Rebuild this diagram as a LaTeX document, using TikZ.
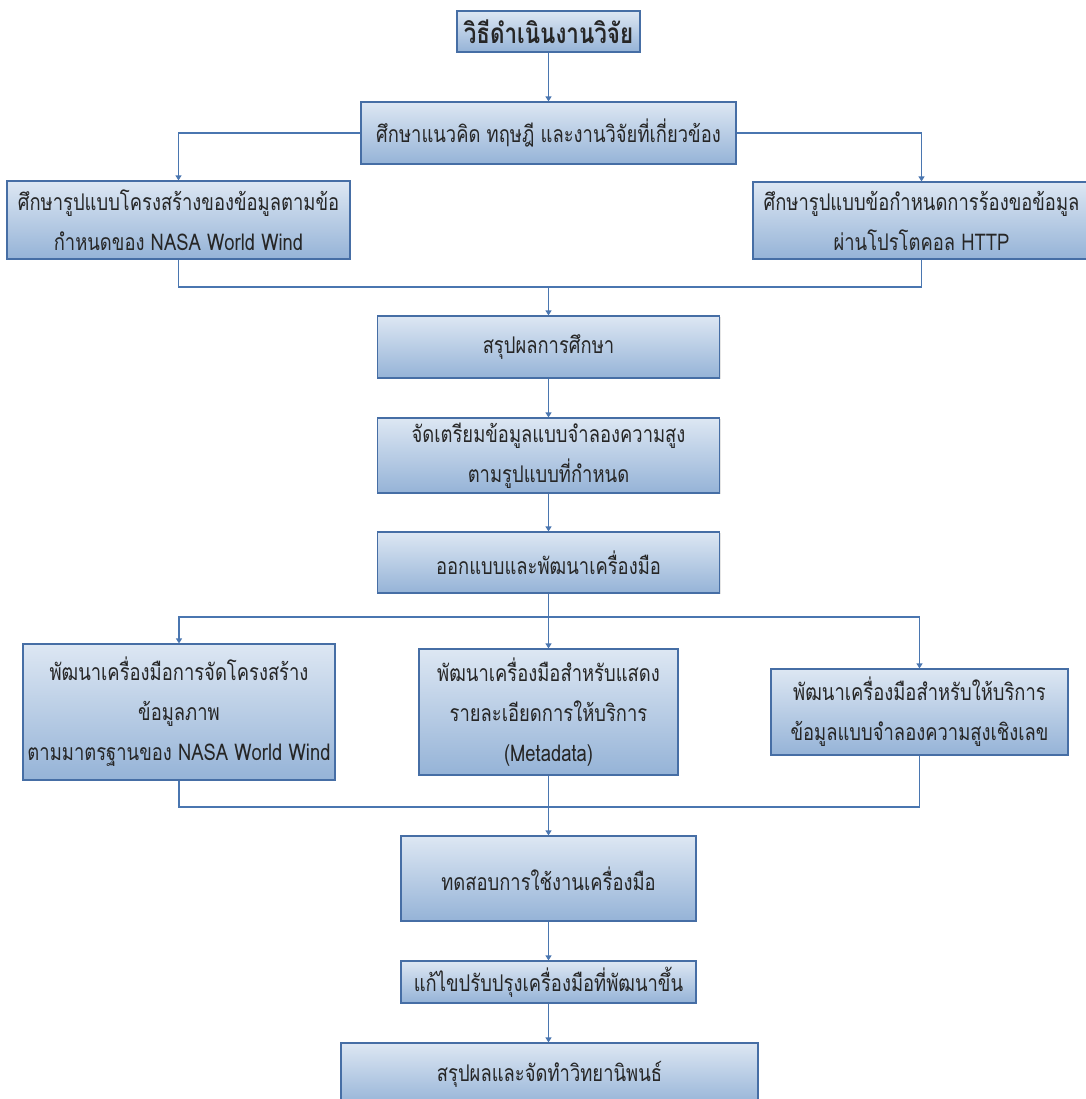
\documentclass[tikz,border=0pt]{standalone}
\usepackage{fontspec}
\newfontfamily\thaifont[Script=Thai,FakeStretch=0.8]{Loma}
\usetikzlibrary{arrows.meta,shadows}
\definecolor{boxtop}{RGB}{221,231,243}
\definecolor{boxbot}{RGB}{149,179,215}
\definecolor{boxedge}{RGB}{70,110,165}
\definecolor{linkcol}{RGB}{74,118,176}
\definecolor{txt}{RGB}{38,38,38}

\begin{document}
\begin{tikzpicture}[x=1pt,y=-1pt,
  box/.style={draw=boxedge, line width=1.2pt, top color=boxtop, bottom color=boxbot,
    inner sep=0pt, align=center, text=txt,
    font=\thaifont\fontsize{23}{40}\selectfont,
    drop shadow={opacity=0.2, shadow xshift=1pt, shadow yshift=-1pt}},
  link/.style={draw=linkcol, line width=1.3pt},
  arr/.style={link, -{Triangle[length=5pt,width=6pt]}}
]
\fill[white] (0,0) rectangle (1085,1099);
\useasboundingbox (0,0) rectangle (1085,1099);

% process boxes
\node[box, minimum width=183pt, minimum height=41pt,
      font=\thaifont\bfseries\fontsize{28}{30}\selectfont] (title) at (548.5,31.5) {วิธีดำเนินงานวิจัย};
\node[box, minimum width=375pt, minimum height=62pt] (b2) at (548.5,133) {ศึกษาแนวคิด ทฤษฎี และงานวิจัยที่เกี่ยวข้อง};
\node[box, minimum width=343pt, minimum height=78pt] (b3) at (178.5,220) {ศึกษารูปแบบโครงสร้างของข้อมูลตามข้อ\\กำหนดของ NASA World Wind};
\node[box, minimum width=337pt, minimum height=77pt] (b4) at (921.5,220.5) {ศึกษารูปแบบข้อกำหนดการร้องขอข้อมูล\\ผ่านโปรโตคอล HTTP};
\node[box, minimum width=342pt, minimum height=62pt] (b5) at (548.5,347) {สรุปผลการศึกษา};
\node[box, minimum width=342pt, minimum height=75pt] (b6) at (548.5,455.5) {จัดเตรียมข้อมูลแบบจำลองความสูง\\ตามรูปแบบที่กำหนด};
\node[box, minimum width=342pt, minimum height=61pt] (b7) at (548.5,562.5) {ออกแบบและพัฒนาเครื่องมือ};
\node[box, minimum width=312pt, minimum height=136pt] (b8) at (179,712) {พัฒนาเครื่องมือการจัดโครงสร้าง\\ข้อมูลภาพ\\ตามมาตรฐานของ NASA World Wind};
\node[box, minimum width=259pt, minimum height=126pt] (b9) at (548.5,712) {พัฒนาเครื่องมือสำหรับแสดง\\รายละเอียดการให้บริการ\\(Metadata)};
\node[box, minimum width=297pt, minimum height=86pt] (b10) at (919.5,712) {พัฒนาเครื่องมือสำหรับให้บริการ\\ข้อมูลแบบจำลองความสูงเชิงเลข};
\node[box, minimum width=295pt, minimum height=85pt] (b11) at (548.5,878.5) {ทดสอบการใช้งานเครื่องมือ};
\node[box, minimum width=295pt, minimum height=42pt] (b12) at (548.5,982) {แก้ไขปรับปรุงเครื่องมือที่พัฒนาขึ้น};
\node[box, minimum width=417pt, minimum height=63pt] (b13) at (549.5,1074.5) {สรุปผลและจัดทำวิทยานิพนธ์};

% junction points of the connectors
\coordinate (j1) at (548.5,287);
\coordinate (j2) at (548.5,617);
\coordinate (j3) at (548.5,807);

% connectors
\draw[arr] (title.south) -- (b2.north);
\draw[arr] (b2.west) -| (b3.north);
\draw[arr] (b2.east) -| (b4.north);
\draw[link] (b3.south) |- (j1);
\draw[link] (b4.south) |- (j1);
\draw[arr] (j1) -- (b5.north);
\draw[arr] (b5.south) -- (b6.north);
\draw[arr] (b6.south) -- (b7.north);
\draw[link] (b7.south) -- (j2);
\draw[arr] (j2) -| (b8.north);
\draw[arr] (j2) -| (b10.north);
\draw[arr] (j2) -- (b9.north);
\draw[link] (b8.south) |- (j3);
\draw[link] (b10.south) |- (j3);
\draw[arr] (b9.south) -- (b11.north);
\draw[arr] (b11.south) -- (b12.north);
\draw[arr] (b12.south) -- (b13.north -| b12.south);
\end{tikzpicture}
\end{document}
